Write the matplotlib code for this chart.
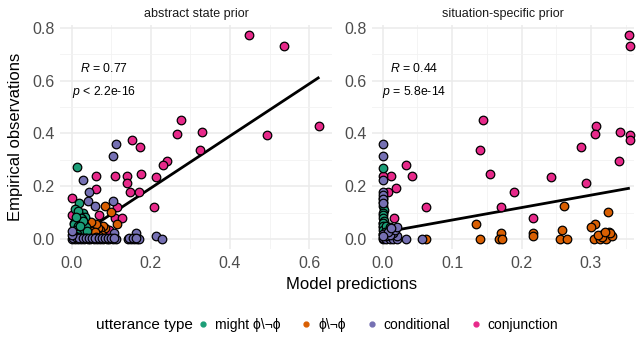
import matplotlib
matplotlib.use("Agg")
import matplotlib.pyplot as plt
from matplotlib.lines import Line2D

plt.rcParams['font.family'] = ['Liberation Sans', 'DejaVu Sans']
plt.rcParams['mathtext.fontset'] = 'custom'
plt.rcParams['mathtext.rm'] = 'Liberation Sans'
plt.rcParams['mathtext.it'] = 'Liberation Sans:italic'

# Dark2 palette used by the original
COLORS = {
    'might': '#1B9E77',
    'contr': '#D95F02',
    'conditional': '#7570B3',
    'conjunction': '#E7298A',
}

PANELS = ['abstract state prior', 'situation-specific prior']
LEGEND_LABELS = ['might \u03d5\\\u00ac\u03d5', '\u03d5\\\u00ac\u03d5', 'conditional', 'conjunction']

# ---- abstract state prior ----
abs_conj_x = [0.449, 0.537, 0.626, 0.493, 0.276, 0.265, 0.328, 0.324, 0.240, 0.230,
              0.212, 0.208, 0.153, 0.172, 0.176, 0.170, 0.147, 0.140, 0.140, 0.108,
              0.062, 0.061, 0.000, 0.113, 0.109, 0.128, 0.069, 0.094, 0.000, 0.044,
              0.030, 0.055, 0.005, 0.038, 0.020, 0.060, 0.012, 0.048, 0.002, 0.025,
              0.008, 0.070]
abs_conj_y = [0.773, 0.732, 0.428, 0.394, 0.451, 0.398, 0.406, 0.337, 0.296, 0.281,
              0.236, 0.122, 0.375, 0.350, 0.246, 0.179, 0.179, 0.239, 0.213, 0.239,
              0.239, 0.191, 0.157, 0.122, 0.078, 0.078, 0.091, 0.034, 0.091, 0.066,
              0.062, 0.048, 0.060, 0.030, 0.012, 0.020, 0.035, 0.010, 0.020, 0.045,
              0.008, 0.025]

abs_cond_x = [0.111, 0.103, 0.027, 0.044, 0.041, 0.058, 0.103, 0.107, 0.161, 0.214,
              0.229, 0.000, 0.007, 0.015, 0.023, 0.031, 0.040, 0.047, 0.055, 0.064,
              0.071, 0.079, 0.088, 0.095, 0.103, 0.111, 0.141, 0.150, 0.158, 0.166,
              0.004, 0.018, 0.035, 0.060, 0.085, 0.170, 0.003, 0.011, 0.019, 0.027,
              0.036, 0.044, 0.051, 0.059, 0.068, 0.075, 0.083, 0.092, 0.099, 0.107,
              0.145, 0.154, 0.162, 0.000, 0.000]
abs_cond_y = [0.360, 0.315, 0.224, 0.179, 0.145, 0.126, 0.145, 0.024, 0.024, 0.011,
              0.000, 0.000, 0.000, 0.000, 0.000, 0.000, 0.000, 0.000, 0.000, 0.000,
              0.000, 0.000, 0.000, 0.000, 0.000, 0.000, 0.000, 0.000, 0.000, 0.000,
              0.012, 0.008, 0.005, 0.006, 0.004, 0.000, 0.004, 0.006, 0.003, 0.005,
              0.002, 0.004, 0.003, 0.002, 0.004, 0.002, 0.003, 0.002, 0.004, 0.003,
              0.002, 0.003, 0.002, 0.015, 0.030]

abs_might_x = [0.0135, 0.0185, 0.009, 0.027, 0.032, 0.025, 0.012, 0.020, 0.006, 0.015,
               0.030, 0.022, 0.010, 0.035, 0.018, 0.004, 0.026, 0.013, 0.038, 0.008,
               0.016, 0.022, 0.028, 0.010, 0.020]
abs_might_y = [0.272, 0.135, 0.113, 0.097, 0.085, 0.075, 0.070, 0.062, 0.055, 0.048,
               0.058, 0.040, 0.035, 0.045, 0.090, 0.025, 0.022, 0.018, 0.030, 0.012,
               0.105, 0.080, 0.068, 0.082, 0.050]

abs_contr_x = [0.085, 0.098, 0.115, 0.084, 0.079, 0.071, 0.045, 0.052, 0.060, 0.065,
               0.040, 0.055, 0.075, 0.030, 0.062, 0.048, 0.068, 0.035, 0.020, 0.010,
               0.025, 0.042, 0.058]
abs_contr_y = [0.125, 0.101, 0.057, 0.043, 0.049, 0.034, 0.050, 0.030, 0.020, 0.040,
               0.020, 0.012, 0.015, 0.010, 0.055, 0.065, 0.010, 0.035, 0.010, 0.018,
               0.028, 0.008, 0.026]

# ---- situation-specific prior ----
sit_conj_x = [0.355, 0.356, 0.145, 0.140, 0.154, 0.170, 0.189, 0.217, 0.242, 0.285,
              0.293, 0.307, 0.306, 0.340, 0.342, 0.356, 0.356, 0.033, 0.042, 0.012,
              0.019, 0.008, 0.063, 0.016, 0.000, 0.000, 0.000, 0.003]
sit_conj_y = [0.773, 0.732, 0.450, 0.337, 0.246, 0.122, 0.179, 0.078, 0.236, 0.349,
              0.213, 0.428, 0.398, 0.296, 0.406, 0.394, 0.375, 0.281, 0.239, 0.239,
              0.192, 0.179, 0.122, 0.078, 0.239, 0.046, 0.060, 0.040]

sit_cond_x = [0.000, 0.000, 0.000, 0.000, 0.000, 0.000, 0.000, 0.034, 0.056, 0.000,
              0.005, 0.010, 0.015, 0.020, 0.020, 0.015, 0.005, 0.010, 0.000, 0.018,
              0.008, 0.000, 0.000, 0.020, 0.012]
sit_cond_y = [0.360, 0.315, 0.224, 0.179, 0.165, 0.150, 0.000, 0.000, 0.000, 0.005,
              0.000, 0.000, 0.000, 0.000, 0.012, 0.022, 0.010, 0.015, 0.020, 0.035,
              0.028, 0.135, 0.010, 0.045, 0.040]

sit_might_x = [0.000, 0.000, 0.001, 0.000, 0.002, 0.000, 0.001, 0.000, 0.002, 0.000,
               0.001, 0.000, 0.008, 0.012, 0.015, 0.005, 0.010, 0.003]
sit_might_y = [0.270, 0.155, 0.140, 0.125, 0.110, 0.100, 0.090, 0.080, 0.070, 0.060,
               0.050, 0.035, 0.040, 0.030, 0.035, 0.050, 0.045, 0.025]

sit_contr_x = [0.063, 0.135, 0.140, 0.170, 0.167, 0.172, 0.217, 0.217, 0.261, 0.259,
               0.255, 0.266, 0.325, 0.306, 0.300, 0.305, 0.313, 0.318, 0.322, 0.326,
               0.330, 0.316, 0.310, 0.328, 0.320, 0.000]
sit_contr_y = [0.000, 0.057, 0.000, 0.024, 0.000, 0.000, 0.024, 0.011, 0.125, 0.034,
               0.000, 0.000, 0.101, 0.056, 0.045, 0.000, 0.000, 0.020, 0.000, 0.025,
               0.010, 0.008, 0.015, 0.022, 0.028, 0.020]

# fitted lines (intercept, slope, x range)
fit_intercept = [-0.004, 0.0246]
fit_slope = [0.986, 0.472]
fit_xmax = [0.626, 0.356]

# correlation labels
stat_R = ['0.77', '0.44']
stat_p = ['< 2.2e-16', '= 5.8e-14']
stat_xpos = [0.081, 0.046]

series = [
    [(abs_conj_x, abs_conj_y, 'conjunction'), (abs_contr_x, abs_contr_y, 'contr'),
     (abs_might_x, abs_might_y, 'might'), (abs_cond_x, abs_cond_y, 'conditional')],
    [(sit_conj_x, sit_conj_y, 'conjunction'), (sit_contr_x, sit_contr_y, 'contr'),
     (sit_might_x, sit_might_y, 'might'), (sit_cond_x, sit_cond_y, 'conditional')],
]

W, H = 636, 339
fig = plt.figure(figsize=(W / 100, H / 100), dpi=100)
ax1 = fig.add_axes([60 / W, 90 / H, 272 / W, 224 / H])
ax2 = fig.add_axes([372 / W, 90 / H, 262 / W, 224 / H])
axes = [ax1, ax2]

xlims = [(-0.030, 0.658), (-0.0154, 0.362)]
xmajor = [[0, 0.2, 0.4, 0.6], [0, 0.1, 0.2, 0.3]]
xminor = [[0.1, 0.3, 0.5], [0.05, 0.15, 0.25, 0.35]]
ymajor = [0, 0.2, 0.4, 0.6, 0.8]
yminor = [0.1, 0.3, 0.5, 0.7]

for i, ax in enumerate(axes):
    # regression line
    xs = [0.0, fit_xmax[i]]
    ys = [fit_intercept[i] + fit_slope[i] * x for x in xs]
    ax.plot(xs, ys, color='black', lw=2.0, zorder=2, solid_capstyle='butt')

    for x, y, key in series[i]:
        ax.scatter(x, y, s=38, c=COLORS[key], edgecolors='black',
                   linewidths=0.9, zorder=3, clip_on=False)

    ax.text(stat_xpos[i], 0.648, r'$\it{R}$ = ' + stat_R[i], ha='center',
            va='center', fontsize=8.8, color='black')
    ax.text(stat_xpos[i], 0.557, r'$\it{p}$ ' + stat_p[i], ha='center',
            va='center', fontsize=8.8, color='black')

    ax.set_xlim(*xlims[i])
    ax.set_ylim(-0.038, 0.811)
    ax.set_xticks(xmajor[i])
    ax.set_xticks(xminor[i], minor=True)
    ax.set_yticks(ymajor)
    ax.set_yticks(yminor, minor=True)
    ax.set_xticklabels([f'{v:.1f}' for v in xmajor[i]])
    ax.set_yticklabels([f'{v:.1f}' for v in ymajor])
    ax.grid(which='major', color='#EBEBEB', lw=1.1)
    ax.grid(which='minor', color='#F2F2F2', lw=0.6)
    ax.set_axisbelow(True)
    for sp in ax.spines.values():
        sp.set_visible(False)
    ax.tick_params(which='both', length=0, labelsize=11.5, labelcolor='#4D4D4D')
    ax.tick_params(axis='x', pad=5)
    ax.tick_params(axis='y', pad=4)
    ax.set_title(PANELS[i], fontsize=9, color='#1A1A1A', pad=6)

fig.text(16 / W, 1 - 137 / H, 'Empirical observations', rotation=90,
         ha='center', va='center', fontsize=12, color='black')
fig.text(352 / W, 1 - 284 / H, 'Model predictions', ha='center', va='center',
         fontsize=12, color='black')

# legend
fig.text(96 / W, 1 - 325 / H, 'utterance type', ha='left', va='center',
         fontsize=11, color='black')
handles = [Line2D([], [], ls='', marker='o', markersize=3.5, color=COLORS[k])
           for k in ['might', 'contr', 'conditional', 'conjunction']]
fig.legend(handles, LEGEND_LABELS, loc='center left',
           bbox_to_anchor=(197 / W, 1 - 325 / H), ncol=4, frameon=False,
           fontsize=10, handlelength=0.9, handletextpad=0.4, columnspacing=1.4,
           borderaxespad=0, borderpad=0)

fig.savefig('out.png', dpi=100)
